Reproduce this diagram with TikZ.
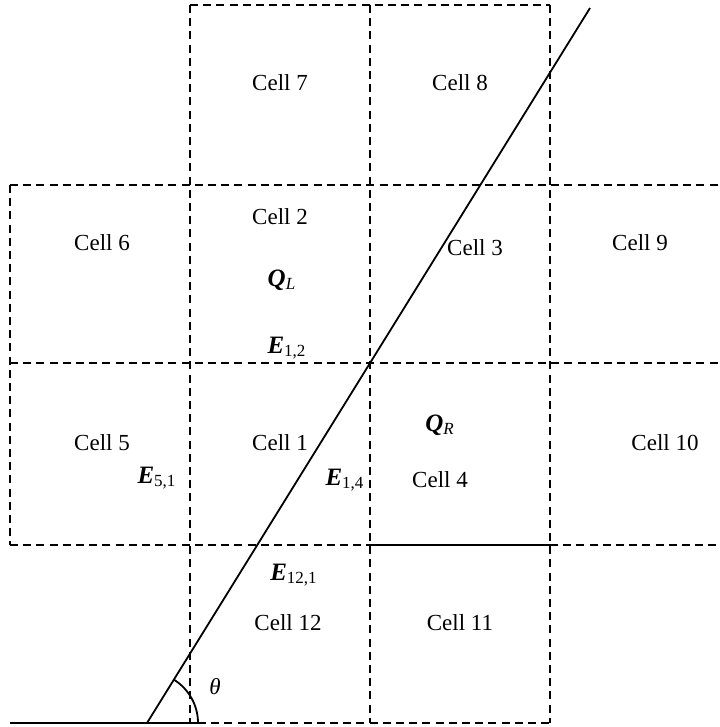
\documentclass[tikz,border=0pt]{standalone}
\usepackage{fontspec}
\setmainfont{Liberation Serif}
\usepackage{tikz}
\usetikzlibrary{positioning}
\tikzset{
  cellline/.style={dash pattern=on 4pt off 2.6pt, line width=0.9pt},
  cellborder/.style={line width=0.9pt},
  celltext/.style={font=\fontsize{11.5}{13}\selectfont},
  raybeam/.style={line width=0.9pt}
}
\newcommand{\fluxlab}[2]{{\fontsize{12.5}{14}\selectfont\bfseries\itshape #1}\textsubscript{\fontsize{8.5}{10}\selectfont #2}}

\begin{document}
\begin{tikzpicture}[x=0.5pt, y=-0.5pt]
    \useasboundingbox (0,0) rectangle (719,727);
    \draw[cellline] (190,5) -- (550,5);
    \draw[cellline] (10,185) -- (719,185);
    \draw[cellline] (10,363) -- (719,363);
    \draw[cellline] (10,545) -- (370,545);
    \draw[cellborder] (370,545) -- (550,545);
    \draw[cellline] (550,545) -- (719,545);
    \draw[cellline] (198,723) -- (550,723);
    \draw[cellline] (10,185) -- (10,545);
    \foreach \x in {190, 370, 550} {
      \draw[cellline] (\x,5) -- (\x,723);
    }
    \coordinate (base) at (147,723);
    \coordinate (tip) at (590,8);
    \draw[raybeam] (10,723) -- (198,723);
    \draw[raybeam] (base) -- (tip);
    \draw[raybeam] (base) ++(0:51) arc[start angle=0, end angle=-58.2, radius=51];
    \node[celltext] (theta) at (215,687) {\itshape θ};
    \foreach \n/\x/\y in {
      7/280/83, 8/460/83,
      6/102/243, 2/280/217, 3/475/248, 9/640/243,
      5/102/443, 1/280/443, 4/440/480, 10/665/443,
      12/288/623, 11/460/623} {
      \node[celltext] (cell\n) at (\x,\y) {Cell \n};
    }
    \node[celltext] (ql) at (282,280) {\fluxlab{Q}{\itshape L}};
    \node[celltext] (qr) at (440,425) {\fluxlab{Q}{\itshape R}};
    \node[celltext] (e12) at (287,348) {\fluxlab{E}{1,2}};
    \node[celltext] (e51) at (157,478) {\fluxlab{E}{5,1}};
    \node[celltext] (e14) at (345,480) {\fluxlab{E}{1,4}};
    \node[celltext] (e121) at (294,575) {\fluxlab{E}{12,1}};
  \end{tikzpicture}
\end{document}
